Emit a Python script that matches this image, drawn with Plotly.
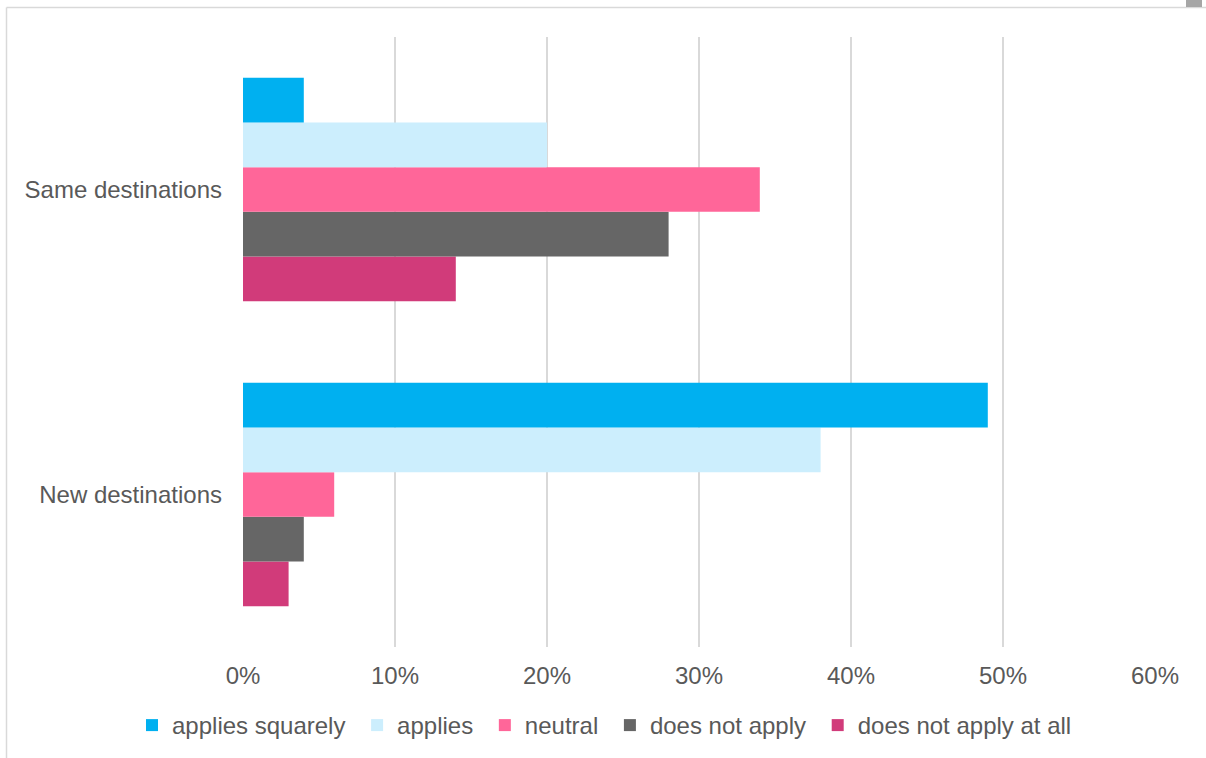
import plotly.graph_objects as go

# Survey answers per destination type (share of respondents, %)
categories = ["Same destinations", "New destinations"]
series_names = ["applies squarely", "applies", "neutral", "does not apply", "does not apply at all"]
same_destinations = [4, 20, 34, 28, 14]
new_destinations = [49, 38, 6, 4, 3]
x_ticks = [0, 10, 20, 30, 40, 50, 60]

colors = ["#00B0F0", "#CCEEFD", "#FF6699", "#666666", "#D13B7A"]

W, H = 1206, 758
L, R, T, B = 243, 51, 37, 111
pw, ph = W - L - R, H - T - B


def px_x(p):
    return (p - L) / pw


def px_y(p):
    return (H - B - p) / ph


fig = go.Figure()
# Traces added bottom-up so the first series sits at the top of each group
for i in reversed(range(len(series_names))):
    fig.add_trace(go.Bar(
        name=series_names[i] + "\u00a0",
        y=categories,
        x=[same_destinations[i], new_destinations[i]],
        orientation="h",
        marker=dict(color=colors[i], line=dict(width=0)),
    ))

font_main = dict(family="Liberation Sans, Arial, sans-serif", size=24, color="#595959")

fig.update_layout(
    width=W, height=H,
    margin=dict(l=L, r=R, t=T, b=B, autoexpand=False),
    paper_bgcolor="white", plot_bgcolor="white",
    barmode="group", bargap=0.267, bargroupgap=0,
    font=font_main,
    showlegend=True,
    legend=dict(
        orientation="h", traceorder="reversed",
        x=px_x(132), y=px_y(703), xanchor="left", yanchor="top",
        font=font_main, itemwidth=30,
    ),
    xaxis=dict(
        range=[0, 60], tickvals=x_ticks, ticktext=[f"{v}%" for v in x_ticks],
        showgrid=True, gridcolor="#D9D9D9", gridwidth=1.5,
        zeroline=False, showline=False, ticks="", ticklabelstandoff=12,
    ),
    yaxis=dict(
        type="category", categoryorder="array", categoryarray=categories[::-1],
        showgrid=False, zeroline=False, showline=False, ticks="",
        ticklabelstandoff=20,
    ),
    shapes=[
        # outer frame (top and left edges)
        dict(type="line", xref="paper", yref="paper",
             x0=px_x(6.5), x1=px_x(1210), y0=px_y(7.5), y1=px_y(7.5),
             line=dict(color="#D9D9D9", width=1.5)),
        dict(type="line", xref="paper", yref="paper",
             x0=px_x(6.5), x1=px_x(6.5), y0=px_y(7.5), y1=px_y(762),
             line=dict(color="#D9D9D9", width=1.5)),
        # small resize handle in the top-right corner
        dict(type="rect", xref="paper", yref="paper",
             x0=px_x(1186), x1=px_x(1202), y0=px_y(-2), y1=px_y(7),
             fillcolor="#A6A6A6", line=dict(width=0)),
    ],
)

fig.write_html("out.html")
